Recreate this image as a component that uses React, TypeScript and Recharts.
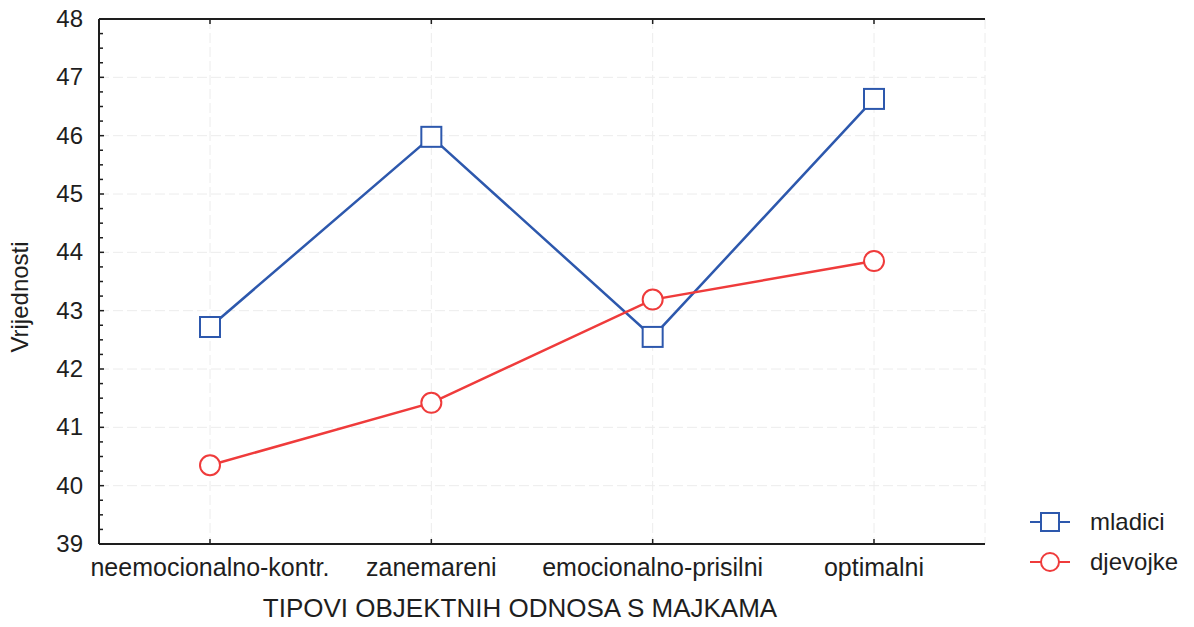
import * as React from 'react'
import { LineChart, Line, XAxis, YAxis, CartesianGrid, Label } from 'recharts'

const CATEGORIES = ['neemocionalno-kontr.', 'zanemareni', 'emocionalno-prisilni', 'optimalni']
const MLADICI = [42.72, 45.98, 42.55, 46.63]
const DJEVOJKE = [40.35, 41.42, 43.19, 43.85]
const MAJOR_TICKS = [39, 40, 41, 42, 43, 44, 45, 46, 47, 48]
const MINOR_TICKS = MAJOR_TICKS.flatMap((v) => (v < 48 ? [v, v + 0.25, v + 0.5, v + 0.75] : [v]))

const BLUE = '#2d58ad'
const RED = '#ef3b3b'
const INK = '#1e1e1e'
const FONT = 'Liberation Sans, Arial, sans-serif'

const data = CATEGORIES.map((cat, i) => ({ cat, mladici: MLADICI[i], djevojke: DJEVOJKE[i] }))

const LEFT_GAP = 16

function LeftTick(props: any) {
  const { x, y, payload } = props
  const axisX = x + LEFT_GAP
  const major = Number.isInteger(payload.value)
  return (
    <g>
      <line x1={axisX} x2={axisX + (major ? 5 : 4)} y1={y} y2={y} stroke={INK} strokeWidth={1.5} />
      {major && (
        <text x={x} y={y} dy={8} textAnchor="end" fontSize={24} fill={INK} fontFamily={FONT}>
          {payload.value}
        </text>
      )}
    </g>
  )
}

function RightTick(props: any) {
  const { x, y } = props
  return <line x1={x} x2={x - 4} y1={y} y2={y} stroke={INK} strokeWidth={1.5} />
}

function BottomTick(props: any) {
  const { x, y, payload } = props
  const axisY = y - 12
  return (
    <g>
      <line x1={x} x2={x} y1={axisY} y2={axisY - 5} stroke={INK} strokeWidth={1.5} />
      <text x={x} y={y} dy={20} textAnchor="middle" fontSize={25} fill={INK} fontFamily={FONT}>
        {payload.value}
      </text>
    </g>
  )
}

function TopTick(props: any) {
  const { x, y } = props
  return <line x1={x} x2={x} y1={y} y2={y + 5} stroke={INK} strokeWidth={1.5} />
}

function SquareDot(props: any) {
  const { cx, cy } = props
  if (cx == null || cy == null) return null
  return <rect x={cx - 10} y={cy - 10} width={20} height={20} fill="#fff" stroke={BLUE} strokeWidth={2} />
}

function CircleDot(props: any) {
  const { cx, cy } = props
  if (cx == null || cy == null) return null
  return <circle cx={cx} cy={cy} r={10} fill="#fff" stroke={RED} strokeWidth={2} />
}

const LEGEND_ITEMS = [
  { name: 'mladici', color: BLUE, square: true },
  { name: 'djevojke', color: RED, square: false },
]

function ChartLegend() {
  return (
    <svg width={170} height={80} style={{ position: 'absolute', left: 1020, top: 505 }}>
      {LEGEND_ITEMS.map((item, i) => {
        const cy = 17 + i * 40
        return (
          <g key={item.name}>
            <line x1={10} x2={50} y1={cy} y2={cy} stroke={item.color} strokeWidth={2} />
            {item.square ? (
              <rect x={21} y={cy - 9} width={18} height={18} fill="#fff" stroke={item.color} strokeWidth={2} />
            ) : (
              <circle cx={30} cy={cy} r={9} fill="#fff" stroke={item.color} strokeWidth={2} />
            )}
            <text x={70} y={cy} dy={8} fontSize={24} fill={INK} fontFamily={FONT}>
              {item.name}
            </text>
          </g>
        )
      })}
    </svg>
  )
}

export default function App() {
  return (
    <div style={{ position: 'absolute', left: 0, top: 0, width: 1194, height: 627, background: '#fff' }}>
      <LineChart width={1194} height={627} data={data} margin={{ top: 18, right: 209, bottom: 0, left: 0 }}>
        <CartesianGrid
          xAxisId="bottom"
          yAxisId="left"
          stroke="#ececec"
          strokeDasharray="10 4"
          horizontalValues={MAJOR_TICKS}
        />
        <XAxis
          dataKey="cat"
          xAxisId="bottom"
          padding={{ left: 111, right: 111 }}
          height={83}
          interval={0}
          tickSize={0}
          tickMargin={12}
          tick={<BottomTick />}
          axisLine={{ stroke: INK, strokeWidth: 2 }}
          tickLine={false}
        >
          <Label
            content={() => (
              <text x={520} y={617} textAnchor="middle" fontSize={26} fill={INK} fontFamily={FONT}>
                TIPOVI OBJEKTNIH ODNOSA S MAJKAMA
              </text>
            )}
          />
        </XAxis>
        <XAxis
          dataKey="cat"
          xAxisId="top"
          orientation="top"
          padding={{ left: 111, right: 111 }}
          height={1}
          interval={0}
          tickSize={0}
          tickMargin={0}
          tick={<TopTick />}
          axisLine={{ stroke: INK, strokeWidth: 2 }}
          tickLine={false}
        />
        <YAxis
          yAxisId="left"
          width={99}
          domain={[39, 48]}
          ticks={MINOR_TICKS}
          interval={0}
          tickSize={0}
          tickMargin={LEFT_GAP}
          tick={<LeftTick />}
          axisLine={{ stroke: INK, strokeWidth: 2 }}
          tickLine={false}
        >
          <Label
            content={() => (
              <text
                x={20}
                y={297}
                dy={8}
                transform="rotate(-90 20 297)"
                textAnchor="middle"
                fontSize={24}
                fill={INK}
                fontFamily={FONT}
              >
                Vrijednosti
              </text>
            )}
          />
        </YAxis>
        <YAxis
          yAxisId="right"
          orientation="right"
          width={0}
          domain={[39, 48]}
          ticks={MINOR_TICKS}
          interval={0}
          tickSize={0}
          tickMargin={0}
          tick={<RightTick />}
          axisLine={{ stroke: INK, strokeWidth: 2 }}
          tickLine={false}
        />
        <Line
          xAxisId="bottom"
          yAxisId="left"
          dataKey="mladici"
          name="mladici"
          stroke={BLUE}
          strokeWidth={2.5}
          dot={<SquareDot />}
          isAnimationActive={false}
        />
        <Line
          xAxisId="bottom"
          yAxisId="left"
          dataKey="djevojke"
          name="djevojke"
          stroke={RED}
          strokeWidth={2.5}
          dot={<CircleDot />}
          isAnimationActive={false}
        />
      </LineChart>
      <ChartLegend />
    </div>
  )
}
